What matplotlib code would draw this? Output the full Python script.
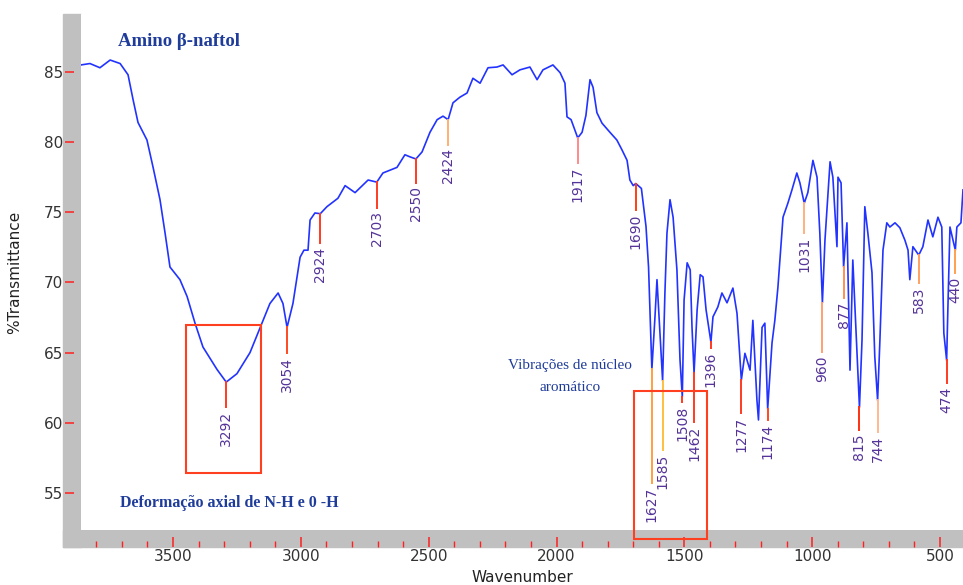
import numpy as np
import matplotlib.pyplot as plt
from matplotlib.patches import Rectangle
from matplotlib.ticker import MultipleLocator

# IR spectrum of amino beta-naphthol: wavenumber (cm-1) vs %T
wavenumber = [3860, 3825, 3786, 3746, 3707, 3676, 3656, 3637, 3602, 3578, 3551, 3531,
              3512, 3473, 3445, 3414, 3383, 3328, 3292, 3250, 3199, 3152, 3121, 3089,
              3070, 3054, 3031, 3003, 2988, 2972, 2964, 2945, 2924, 2898, 2855, 2827,
              2788, 2757, 2737, 2703, 2679, 2651, 2624, 2593, 2573, 2550, 2526, 2495,
              2467, 2444, 2424, 2405, 2378, 2350, 2327, 2299, 2268, 2233, 2209, 2174,
              2143, 2104, 2076, 2053, 2014, 1986, 1967, 1959, 1943, 1917, 1900, 1885,
              1869, 1857, 1842, 1822, 1791, 1764, 1744, 1724, 1713, 1700, 1690, 1668,
              1650, 1640, 1627, 1615, 1607, 1585, 1576, 1568, 1556, 1544, 1529, 1517,
              1508, 1501, 1489, 1477, 1470, 1462, 1450, 1438, 1427, 1415, 1396, 1388,
              1369, 1353, 1333, 1310, 1294, 1277, 1263, 1243, 1232, 1216, 1210, 1196,
              1185, 1174, 1157, 1146, 1134, 1114, 1095, 1079, 1060, 1048, 1031, 1017,
              997, 981, 970, 960, 950, 930, 919, 903, 899, 887, 877, 864,
              852, 841, 815, 805, 794, 782, 766, 755, 744, 735, 723, 708,
              696, 676, 657, 637, 625, 618, 606, 583, 567, 547, 528, 508,
              493, 485, 474, 469, 461, 449, 440, 434, 418, 410]
transmittance = [85.5, 85.6, 85.3, 85.85, 85.6, 84.8, 83.0, 81.4, 80.15, 78.2, 75.9, 73.5,
                 71.1, 70.2, 69.0, 67.1, 65.4, 63.8, 62.9, 63.5, 65.0, 67.1, 68.5, 69.25,
                 68.5, 66.8, 68.5, 71.8, 72.3, 72.3, 74.45, 74.95, 74.9, 75.4, 76.0, 76.9,
                 76.4, 76.95, 77.3, 77.15, 77.8, 78.0, 78.2, 79.1, 78.95, 78.8, 79.3, 80.7,
                 81.6, 81.85, 81.6, 82.8, 83.2, 83.5, 84.55, 84.2, 85.3, 85.35, 85.5, 84.8,
                 85.15, 85.35, 84.45, 85.15, 85.5, 84.95, 84.2, 81.8, 81.6, 80.3, 80.7, 81.9,
                 84.45, 83.9, 82.1, 81.35, 80.7, 80.15, 79.45, 78.7, 77.3, 76.9, 77.05, 76.7,
                 74.0, 71.1, 63.8, 67.5, 70.2, 63.0, 69.25, 73.5, 75.9, 74.65, 70.9, 64.5,
                 61.85, 68.75, 71.4, 70.9, 66.8, 63.55, 68.05, 70.55, 70.4, 68.05, 65.75, 67.55,
                 68.25, 69.25, 68.55, 69.6, 67.8, 63.05, 64.95, 63.75, 67.3, 61.6, 60.2, 66.8,
                 67.1, 61.0, 65.7, 67.3, 69.65, 74.65, 75.65, 76.6, 77.8, 77.1, 75.65, 76.4,
                 78.7, 77.5, 73.5, 68.55, 73.0, 78.6, 77.5, 72.55, 77.5, 77.1, 71.1, 74.25,
                 63.75, 71.6, 61.1, 65.9, 75.4, 73.5, 70.7, 64.7, 61.6, 65.9, 72.3, 74.25,
                 73.95, 74.25, 73.9, 73.0, 72.3, 70.2, 72.55, 71.95, 72.55, 74.45, 73.25, 74.65,
                 73.95, 66.4, 64.45, 68.25, 73.95, 73.0, 72.3, 73.95, 74.25, 76.6]

# labelled bands
peak_wn = [3292, 3054, 2924, 2703, 2550, 2424, 1917, 1690, 1627, 1585, 1508, 1462,
           1396, 1277, 1174, 1031, 960, 877, 815, 744, 583, 474, 440]

# where each marker line stops (text goes just below)
peak_stop = [61.12, 64.97, 72.81, 75.31, 77.09, 79.80, 78.51, 75.16, 55.70, 58.06, 61.48, 60.05,
             65.3, 60.69, 60.2, 73.52, 65.04, 68.89, 59.48, 59.34, 69.96, 62.83, 70.67]
peak_colors = ["#ff3a20", "#ff4a20", "#ff3a20", "#ff3a20", "#ff3a20", "#ffb070", "#ff8a8a",
               "#ff4010", "#ffa040", "#ffc040", "#ff3a20", "#ff3a20", "#ff3a20", "#ff3a20",
               "#ff4a20", "#ffb080", "#ffa070", "#ff9050", "#ff3010", "#ffb890", "#ffa060",
               "#ff3a20", "#ffa050"]

W, H = 963, 585
fig = plt.figure(figsize=(W / 100, H / 100), dpi=100)
ax = fig.add_axes([81 / W, 1 - 530 / H, 882 / W, 516 / H])

# gray frame bars on the left and bottom
gray = "#c0c0c0"
fig.add_artist(Rectangle((63 / W, 1 - 547 / H), 18 / W, 533 / H,
                         transform=fig.transFigure, color=gray, zorder=-1))
fig.add_artist(Rectangle((63 / W, 1 - 547 / H), 900 / W, 17 / H,
                         transform=fig.transFigure, color=gray, zorder=-1))

ax.plot(wavenumber, transmittance, color="#2233ff", lw=1.2, zorder=3)

wn_inc = np.array(wavenumber[::-1])
t_inc = np.array(transmittance[::-1])
for wn, stop, c in zip(peak_wn, peak_stop, peak_colors):
    top = np.interp(wn, wn_inc, t_inc)
    ax.plot([wn, wn], [top, stop], color=c, lw=1.4, zorder=4)
    ax.text(wn, stop - 0.25, str(wn), rotation=90, ha="center", va="top",
            fontsize=10, color="#553399", zorder=5)

# highlight boxes
box_kw = dict(fill=False, edgecolor="#ff4020", lw=1.5, clip_on=False, zorder=6)
ax.add_patch(Rectangle((3156, 56.42), 3449 - 3156, 66.97 - 56.42, **box_kw))
ax.add_patch(Rectangle((1412, 51.71), 1697 - 1412, 62.26 - 51.71, **box_kw))

note_kw = dict(family="Liberation Serif", color="#1f3c9a")
ax.text(3715, 87.14, "Amino β-naftol", fontsize=13.5, fontweight="bold",
        ha="left", va="center", **note_kw)
ax.text(3707, 54.28, "Deformação axial de N-H e 0 -H", fontsize=11.5, fontweight="bold",
        ha="left", va="center", **note_kw)
ax.text(1947, 64.11, "Vibrações de núcleo", fontsize=11, ha="center", va="center", **note_kw)
ax.text(1947, 62.55, "aromático", fontsize=11, ha="center", va="center", **note_kw)

ax.set_xlim(3860, 410)
ax.set_ylim(52.36, 89.13)

for s in ["top", "right"]:
    ax.spines[s].set_visible(False)
ax.spines["left"].set_position(("outward", 11.5))
ax.spines["bottom"].set_position(("outward", 12.2))
ax.spines["left"].set_visible(False)
ax.spines["bottom"].set_visible(False)

ax.xaxis.set_major_locator(MultipleLocator(500))
ax.xaxis.set_minor_locator(MultipleLocator(100))
ax.set_yticks([55, 60, 65, 70, 75, 80, 85])
ax.tick_params(axis="x", which="major", direction="in", length=7.2, width=1.1,
               color="#ff2020", labelsize=11, labelcolor="#333333", pad=1.5)
ax.tick_params(axis="x", which="minor", direction="in", length=4.3, width=1.0,
               color="#ff2020")
ax.tick_params(axis="y", direction="in", length=6.5, width=1.1,
               color="#ff2020", labelsize=11, labelcolor="#333333", pad=1.5)

ax.set_xlabel("Wavenumber", fontsize=11, color="#222222")
ax.set_ylabel("%Transmittance", fontsize=11, color="#222222")
ax.xaxis.set_label_coords(0.5, -0.078)
ax.yaxis.set_label_coords(-0.067, 0.5)

fig.savefig("out.png", dpi=100)
